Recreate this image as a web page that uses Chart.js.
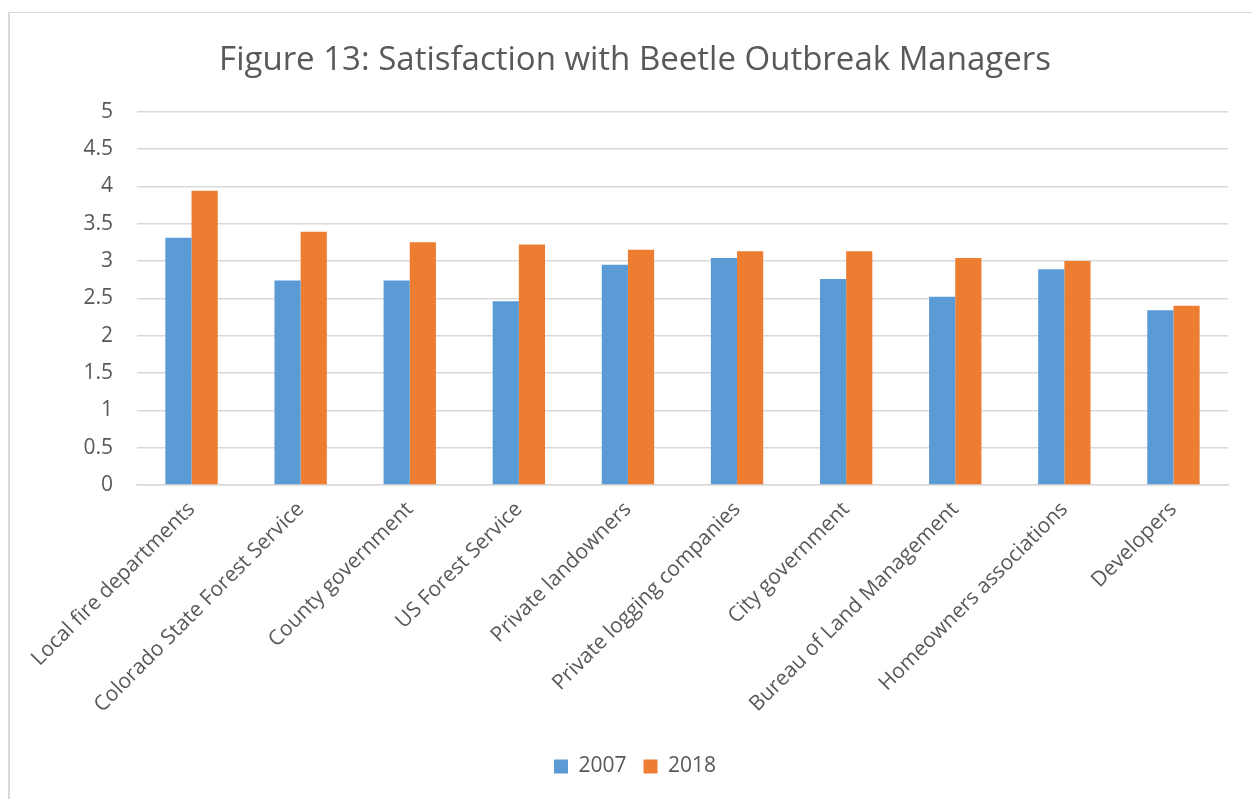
<!DOCTYPE html>
<html>
<head>
<meta charset="utf-8">
<script src="https://cdn.jsdelivr.net/npm/chart.js@4"></script>
<style>
  html, body { margin: 0; padding: 0; background: #ffffff; }
  #frame { position: absolute; left: 8px; top: 12px; width: 1244px; height: 787px;
           border-top: 1px solid #d9d9d9; border-left: 2px solid #d9d9d9; box-sizing: border-box; }
  #c { position: absolute; left: 10px; top: 13px; }
</style>
</head>
<body>
<div id="frame"></div>
<canvas id="c" width="1242" height="786"></canvas>
<script>
const categories = [
  "Local fire departments",
  "Colorado State Forest Service",
  "County government",
  "US Forest Service",
  "Private landowners",
  "Private logging companies",
  "City government",
  "Bureau of Land Management",
  "Homeowners associations",
  "Developers"
];
const values2007 = [3.31, 2.74, 2.74, 2.46, 2.95, 3.04, 2.76, 2.52, 2.89, 2.34];
const values2018 = [3.94, 3.39, 3.25, 3.22, 3.15, 3.13, 3.13, 3.04, 3.00, 2.40];
const seriesNames = ["2007", "2018"];
const titleText = "Figure 13: Satisfaction with Beetle Outbreak Managers";

const FONT = "'Open Sans', sans-serif";
const TEXT = "#595959";

new Chart(document.getElementById('c'), {
  type: 'bar',
  data: {
    labels: categories,
    datasets: [
      { label: seriesNames[0], data: values2007, backgroundColor: '#5B9BD5', borderWidth: 0,
        categoryPercentage: 0.48, barPercentage: 1.0 },
      { label: seriesNames[1], data: values2018, backgroundColor: '#ED7D31', borderWidth: 0,
        categoryPercentage: 0.48, barPercentage: 1.0 }
    ]
  },
  options: {
    responsive: false,
    animation: false,
    devicePixelRatio: 1,
    layout: { padding: { left: 32, right: 24, top: 0, bottom: 12 } },
    plugins: {
      title: {
        display: true, text: titleText, color: TEXT,
        font: { family: FONT, size: 33, weight: 'normal' },
        padding: { top: 28, bottom: 31 }
      },
      legend: {
        display: true, position: 'bottom',
        labels: {
          color: TEXT, boxWidth: 14, boxHeight: 14, padding: 17,
          font: { family: FONT, size: 21 }
        }
      },
      tooltip: { enabled: false }
    },
    scales: {
      y: {
        min: 0, max: 5,
        ticks: { stepSize: 0.5, color: TEXT, font: { family: FONT, size: 21 }, padding: 24,
                 callback: v => String(Number(v.toFixed(1))) },
        grid: { color: '#d9d9d9', lineWidth: 1.5, drawTicks: false },
        border: { display: false },
        afterFit: s => { s.width = 95; }
      },
      x: {
        ticks: { color: TEXT, font: { family: FONT, size: 21 }, minRotation: 45, maxRotation: 45,
                 autoSkip: false, padding: 12 },
        grid: { display: false, drawTicks: false },
        border: { display: true, color: '#d9d9d9', width: 1.5 },
        afterFit: s => { s.height = 254; }
      }
    }
  }
});
</script>
</body>
</html>
